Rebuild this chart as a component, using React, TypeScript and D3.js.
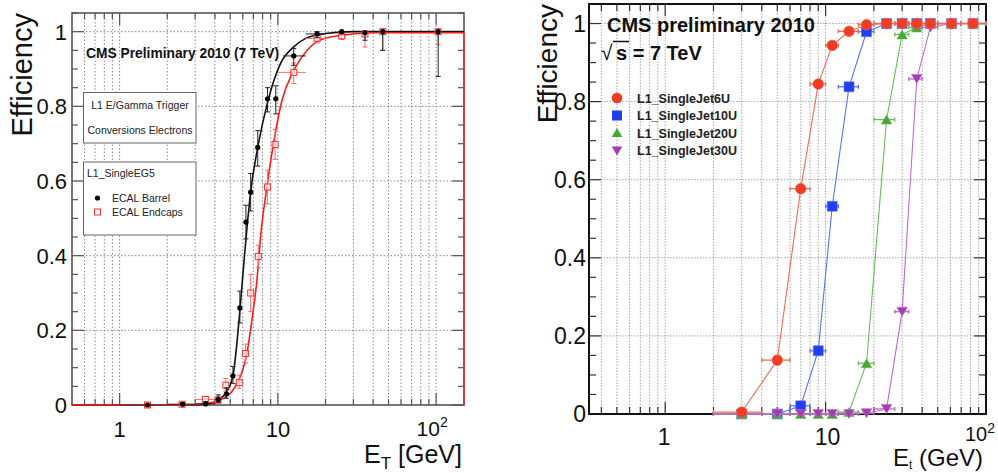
import React from "react";
import * as d3 from "d3";

// ---------- left: L1_SingleEG5 on conversion electrons ----------
const barrelEt = [1.5, 2.5, 3.5, 4.2, 4.73, 5.2, 5.75, 6.28, 6.73, 7.46, 8.6, 9.7, 12.6, 17.7, 25.3, 35.5, 46, 103];
const barrelEff = [0, 0.002, 0.003, 0.015, 0.03, 0.078, 0.26, 0.49, 0.57, 0.69, 0.82, 0.82, 0.935, 0.994, 1.0, 0.997, 1.0, 1.0];
const barrelErrLo = [0, 0.002, 0.003, 0.008, 0.012, 0.02, 0.04, 0.045, 0.05, 0.05, 0.035, 0.04, 0.025, 0.01, 0.006, 0.02, 0.05, 0.12];
const barrelErrHi = [0.003, 0.004, 0.006, 0.012, 0.016, 0.025, 0.045, 0.045, 0.05, 0.045, 0.03, 0.035, 0.02, 0.006, 0, 0.003, 0, 0];
const barrelEtLo = [1, 2, 3, 4.0, 4.6, 5.05, 5.6, 6.1, 6.55, 7.25, 8.35, 9.4, 10.8, 15, 25.3, 35.5, 46, 103];
const barrelEtHi = [2, 3, 4, 4.4, 4.9, 5.35, 5.9, 6.45, 6.9, 7.7, 8.85, 10, 15, 20, 25.3, 35.5, 46, 103];

const endcapEt = [1.5, 2.48, 3.48, 4.19, 4.69, 5.7, 6.25, 6.73, 7.52, 8.59, 9.6, 12.6, 17.7, 25.3, 35.5, 46, 103];
const endcapEff = [0, 0.002, 0.015, 0.013, 0.053, 0.06, 0.138, 0.3, 0.398, 0.584, 0.698, 0.891, 0.982, 0.989, 0.994, 1.0, 1.0];
const endcapErrLo = [0, 0.002, 0.006, 0.006, 0.015, 0.015, 0.025, 0.05, 0.03, 0.045, 0.04, 0.03, 0.012, 0.01, 0.035, 0.05, 0.035];
const endcapErrHi = [0.003, 0.004, 0.008, 0.009, 0.018, 0.02, 0.025, 0.05, 0.03, 0.045, 0.04, 0.025, 0.008, 0.005, 0.004, 0, 0];
const endcapEtLo = [1, 2, 3, 4.0, 4.5, 5.5, 6.05, 6.55, 7.3, 8.35, 9.35, 10, 15, 25.3, 35.5, 46, 103];
const endcapEtHi = [2, 3, 4, 4.4, 4.9, 5.9, 6.45, 6.9, 7.75, 8.85, 9.85, 15, 20, 25.3, 35.5, 46, 103];

// fitted turn-on curves
const barrelFitEt = [0.5, 3.0, 3.44, 4.0, 4.3, 4.73, 5.21, 5.69, 6.04, 6.3, 6.73, 7.46, 8.6, 10.4, 12.5, 15, 20, 30, 150];
const barrelFitEff = [0, 0, 0.002, 0.008, 0.016, 0.035, 0.08, 0.23, 0.36, 0.45, 0.57, 0.69, 0.81, 0.915, 0.958, 0.982, 0.995, 1.0, 1.0];
const endcapFitEt = [0.5, 2.5, 3.53, 4.4, 5.21, 5.9, 6.37, 6.85, 7.37, 7.81, 8.52, 9.38, 10.6, 12.6, 15.3, 18.6, 24.9, 40.5, 150];
const endcapFitEff = [0, 0, 0.004, 0.015, 0.04, 0.085, 0.138, 0.227, 0.334, 0.459, 0.584, 0.7, 0.815, 0.896, 0.95, 0.978, 0.99, 0.997, 0.997];

// ---------- right: L1 single jet triggers ----------
const jetEt = [3, 5, 7, 9, 11, 14, 18, 24, 30, 37, 45, 61, 83];
const jetEtLo = [2, 4, 6, 8, 10, 12, 16, 20, 27, 33, 40, 50, 70];
const jetEtHi = [4, 6, 8, 10, 12, 16, 20, 27, 33, 40, 50, 70, 100];
const jet6U = [0.005, 0.138, 0.577, 0.845, 0.944, 0.98, 0.997, 1, 1, 1, 1, 1, 1];
const jet10U = [0, 0, 0.021, 0.162, 0.532, 0.838, 0.979, 1, 1, 1, 1, 1, 1];
const jet20U = [0, 0, 0, 0, 0, 0.005, 0.13, 0.754, 0.972, 0.99, 1, 1, 1];
const jet30U = [0, 0, 0, 0, 0, 0, 0.002, 0.013, 0.262, 0.858, 0.99, 1, 1];

const jetSeries = [
  { name: "L1_SingleJet10U", eff: jet10U, color: "#1f3ff0", line: "#5a72f2", shape: "square" },
  { name: "L1_SingleJet20U", eff: jet20U, color: "#44a832", line: "#6cbc5c", shape: "triangle" },
  { name: "L1_SingleJet30U", eff: jet30U, color: "#a63cb4", line: "#bd6cc8", shape: "down" },
  { name: "L1_SingleJet6U", eff: jet6U, color: "#ee3d22", line: "#f26a56", shape: "circle" },
];
const jetLegend = ["L1_SingleJet6U", "L1_SingleJet10U", "L1_SingleJet20U", "L1_SingleJet30U"];

const FONT = "'Liberation Sans', Arial, Helvetica, sans-serif";

const symbolPath = (shape: string) => {
  if (shape === "circle") return d3.symbol(d3.symbolCircle, 90)()!;
  if (shape === "square") return d3.symbol(d3.symbolSquare, 100)()!;
  return d3.symbol(d3.symbolTriangle, 48)()!;
};

type Sc = { x: d3.ScaleLogarithmic<number, number>; y: d3.ScaleLinear<number, number> };

function Frame({ x, y, grid, gridDash, frameColor, frameW, majLen, minLen, tickColor }: Sc & any) {
  const [x0, x1] = x.range();
  const [y0, y1] = y.range();
  const [d0, d1] = x.domain();
  const xt = x.ticks().filter((t: number) => t > d0 * 1.001 && t < d1 * 0.999);
  const major = (t: number) => Math.abs(Math.log10(t) - Math.round(Math.log10(t))) < 1e-6;
  const yMinor = y.ticks(21);
  const yMajor = y.ticks(5);
  return (
    <g>
      {xt.map((t: number) => (
        <line key={"gx" + t} x1={x(t)} x2={x(t)} y1={y0} y2={y1} stroke={grid} strokeWidth={1} strokeDasharray={gridDash} />
      ))}
      {yMajor.filter((t: number) => t > 0).map((t: number) => (
        <line key={"gy" + t} x1={x0} x2={x1} y1={y(t)} y2={y(t)} stroke={grid} strokeWidth={1} strokeDasharray={gridDash} />
      ))}
      {xt.map((t: number) => {
        const L = major(t) ? majLen : minLen;
        return (
          <g key={"tx" + t} stroke={tickColor} strokeWidth={1.2}>
            <line x1={x(t)} x2={x(t)} y1={y0} y2={y0 - L} />
            <line x1={x(t)} x2={x(t)} y1={y1} y2={y1 + L} />
          </g>
        );
      })}
      {yMinor.map((t: number) => {
        const L = yMajor.some((m: number) => Math.abs(m - t) < 1e-9) ? majLen : minLen;
        return (
          <g key={"ty" + t} stroke={tickColor} strokeWidth={1.2}>
            <line x1={x0} x2={x0 + L} y1={y(t)} y2={y(t)} />
            <line x1={x1} x2={x1 - L} y1={y(t)} y2={y(t)} />
          </g>
        );
      })}
      <rect x={x0} y={y1} width={x1 - x0} height={y0 - y1} fill="none" stroke={frameColor} strokeWidth={frameW} />
    </g>
  );
}

function LeftPanel() {
  const x = d3.scaleLog().domain([0.5, 150]).range([72, 464]);
  const y = d3.scaleLinear().domain([0, 1.05]).range([405, 13]);
  const line = d3.line<number>().curve(d3.curveMonotoneX);
  const fitB = line(barrelFitEt.map((e, i) => [x(e), y(barrelFitEff[i])]) as any);
  const fitE = line(endcapFitEt.map((e, i) => [x(e), y(endcapFitEff[i])]) as any);
  const errs = (et: number[], eff: number[], lo: number[], hi: number[], elo: number[], ehi: number[], color: string) =>
    et.map((e, i) => {
      const cx = x(e);
      const ya = y(eff[i] - lo[i]);
      const yb = y(eff[i] + hi[i]);
      return (
        <g key={i} stroke={color} strokeWidth={1}>
          {ya - yb > 2 && <line x1={cx} x2={cx} y1={ya} y2={yb} />}
          {ya - yb > 2 && <line x1={cx - 2.5} x2={cx + 2.5} y1={ya} y2={ya} />}
          {ya - yb > 2 && <line x1={cx - 2.5} x2={cx + 2.5} y1={yb} y2={yb} />}
          {ehi[i] > elo[i] && <line x1={x(elo[i])} x2={x(ehi[i])} y1={y(eff[i])} y2={y(eff[i])} />}
        </g>
      );
    });
  return (
    <g fontFamily={FONT}>
      <Frame x={x} y={y} grid="#8a8a8a" gridDash="1.5,2" frameColor="#555" frameW={1.6} majLen={12} minLen={6} tickColor="#555" />
      <path d={fitB!} fill="none" stroke="#111" strokeWidth={1.6} />
      <path d={fitE!} fill="none" stroke="#ff1a1a" strokeWidth={1.6} />
      <line x1={464} x2={464} y1={y(0.997)} y2={405} stroke="#e83030" strokeWidth={1.6} />
      {errs(endcapEt, endcapEff, endcapErrLo, endcapErrHi, endcapEtLo, endcapEtHi, "#ff6a6a")}
      {endcapEt.map((e, i) => (
        <rect key={"e" + i} x={x(e) - 3} y={y(endcapEff[i]) - 3} width={6} height={6} fill="white" fillOpacity={0.6} stroke="#ff3030" strokeWidth={1} />
      ))}
      {errs(barrelEt, barrelEff, barrelErrLo, barrelErrHi, barrelEtLo, barrelEtHi, "#222")}
      {barrelEt.map((e, i) => (
        <circle key={"b" + i} cx={x(e)} cy={y(barrelEff[i])} r={2.6} fill="#000" />
      ))}

      {/* labels */}
      {[0, 0.2, 0.4, 0.6, 0.8, 1].map((t) => (
        <text key={t} x={67} y={y(t)} dy="0.36em" textAnchor="end" fontSize={22} fill="#111">{t === 0 || t === 1 ? t : t.toFixed(1)}</text>
      ))}
      <text x={x(1)} y={437} textAnchor="middle" fontSize={22} fill="#111">1</text>
      <text x={x(10)} y={437} textAnchor="middle" fontSize={22} fill="#111">10</text>
      <text x={x(100) - 4} y={436} textAnchor="middle" fontSize={21} fill="#111">10<tspan dy={-9} fontSize={14}>2</tspan></text>
      <text transform="translate(32,13) rotate(-90)" textAnchor="end" fontSize={29} fill="#111">Efficiency</text>
      <text x={462} y={463} textAnchor="end" fontSize={25} fill="#111">
        E<tspan fontSize={17} dy={6}>T</tspan><tspan dy={-6}> [GeV]</tspan>
      </text>
      <text x={86} y={58} fontSize={13.8} fontWeight="bold" fill="#111">CMS Preliminary 2010 (7 TeV)</text>

      <rect x={83.5} y={92.5} width={112.5} height={50.5} fill="white" stroke="#666" strokeWidth={1} />
      <text x={140} y={109} textAnchor="middle" fontSize={10.5} fill="#222">L1 E/Gamma Trigger</text>
      <text x={140} y={134} textAnchor="middle" fontSize={10.5} fill="#222">Conversions Electrons</text>
      <rect x={83.5} y={162} width={112.5} height={73} fill="white" stroke="#666" strokeWidth={1} />
      <text x={87} y={177} fontSize={10.5} fill="#222">L1_SingleEG5</text>
      <circle cx={97.5} cy={198} r={2.6} fill="#000" />
      <text x={112} y={202} fontSize={10.5} fill="#222">ECAL Barrel</text>
      <rect x={94.5} y={209} width={6} height={6} fill="white" stroke="#ff3030" strokeWidth={1} />
      <text x={112} y={216} fontSize={10.5} fill="#222">ECAL Endcaps</text>
    </g>
  );
}

function RightPanel() {
  const x = d3.scaleLog().domain([0.335, 100]).range([589, 986]);
  const y = d3.scaleLinear().domain([0, 1.05]).range([414, 4]);
  const line = d3.line<number>();
  return (
    <g fontFamily={FONT}>
      <Frame x={x} y={y} grid="#a8a8a8" gridDash="1.5,1.5" frameColor="#111" frameW={2} majLen={12} minLen={7} tickColor="#333" />
      {jetSeries.map((s) => (
        <g key={s.name}>
          <path d={line(jetEt.map((e, i) => [x(e), y(s.eff[i])]) as any)!} fill="none" stroke={s.line} strokeWidth={1.1} />
          {jetEt.map((e, i) => (
            <g key={i} stroke={s.line} strokeWidth={1.3}>
              <line x1={x(jetEtLo[i])} x2={x(jetEtHi[i])} y1={y(s.eff[i])} y2={y(s.eff[i])} />
              <line x1={x(jetEtLo[i])} x2={x(jetEtLo[i])} y1={y(s.eff[i]) - 2} y2={y(s.eff[i]) + 2} />
              <line x1={x(jetEtHi[i])} x2={x(jetEtHi[i])} y1={y(s.eff[i]) - 2} y2={y(s.eff[i]) + 2} />
            </g>
          ))}
          {jetEt.map((e, i) => (
            <path key={"m" + i} d={symbolPath(s.shape)} fill={s.color} stroke={s.line} strokeWidth={0.6}
              transform={`translate(${x(e)},${y(s.eff[i]) + (s.shape === "down" ? -1.5 : s.shape === "triangle" ? 1.5 : 0)})${s.shape === "down" ? " rotate(180)" : ""}`} />
          ))}
        </g>
      ))}

      {[0, 0.2, 0.4, 0.6, 0.8, 1].map((t) => (
        <text key={t} x={586} y={y(t)} dy="0.36em" textAnchor="end" fontSize={23} fill="#111">{t === 0 || t === 1 ? t : t.toFixed(1)}</text>
      ))}
      <text x={x(1) - 1} y={445} textAnchor="middle" fontSize={23} fill="#111">1</text>
      <text x={x(10) + 2} y={445} textAnchor="middle" fontSize={23} fill="#111">10</text>
      <text x={x(100) - 6} y={441} textAnchor="middle" fontSize={20} fill="#111">10<tspan dy={-8} fontSize={14}>2</tspan></text>
      <text transform="translate(557,4) rotate(-90)" textAnchor="end" fontSize={28} fill="#111">Efficiency</text>
      <text x={983} y={466} textAnchor="end" fontSize={24} fill="#111">
        E<tspan fontSize={12} dy={3}>t</tspan><tspan dy={-3}> (GeV)</tspan>
      </text>
      <text x={607} y={32} fontSize={20} fontWeight="bold" fill="#111">CMS preliminary 2010</text>
      <text x={601} y={60} fontSize={21} fill="#111">√</text>
      <line x1={613} x2={629} y1={41.5} y2={41.5} stroke="#111" strokeWidth={1.5} />
      <text x={616} y={60} fontSize={20} fontWeight="bold" fill="#111">s = 7 TeV</text>

      {jetLegend.map((name, k) => {
        const s = jetSeries.find((d) => d.name === name)!;
        const cy = 98 + k * 17.5;
        return (
          <g key={name}>
            <path d={symbolPath(s.shape)} fill={s.color}
              transform={`translate(617,${cy + (s.shape === "down" ? -1 : s.shape === "triangle" ? 1 : 0)})${s.shape === "down" ? " rotate(180)" : ""}`} />
            <text x={637} y={cy + 4.5} fontSize={12.5} fontWeight="bold" fill="#222">{name}</text>
          </g>
        );
      })}
    </g>
  );
}

export default function App() {
  return (
    <svg width={998} height={473} viewBox="0 0 998 473" style={{ position: "absolute", left: 0, top: 0, background: "white" }}>
      <rect width={998} height={473} fill="white" />
      <LeftPanel />
      <RightPanel />
    </svg>
  );
}
